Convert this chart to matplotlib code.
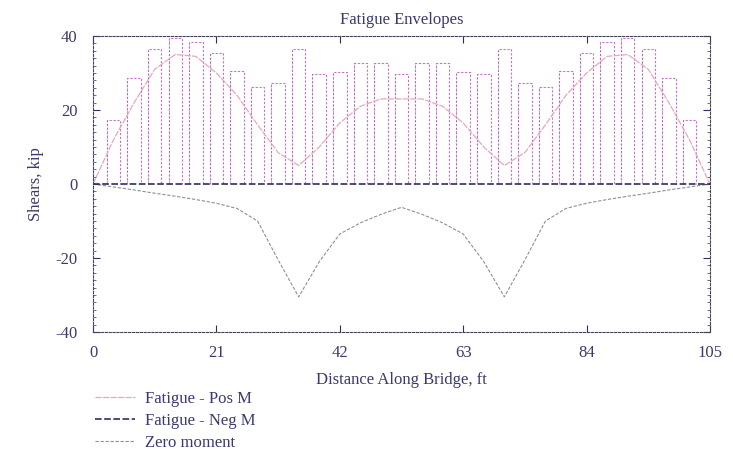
import numpy as np
import matplotlib
matplotlib.use("Agg")
import matplotlib.pyplot as plt

plt.rcParams['font.family'] = ['Liberation Serif', 'DejaVu Serif']
plt.rcParams['axes.unicode_minus'] = False

# Data
dist = [0, 3.5, 7, 10.5, 14, 17.5, 21, 24.5, 28, 31.5, 35, 38.5, 42, 45.5, 49, 52.5,
        56, 59.5, 63, 66.5, 70, 73.5, 77, 80.5, 84, 87.5, 91, 94.5, 98, 101.5, 105]
pos_m = [0, 12, 22, 31, 35, 34.5, 30, 24, 16, 8.5, 5, 10, 16.5, 21, 23, 23,
         23, 21, 16.5, 10, 5, 8.5, 16, 24, 30, 34.5, 35, 31, 22, 12, 0]
neg_m = [0, -0.8, -1.6, -2.5, -3.3, -4.2, -5.2, -6.6, -10, -20.5, -30.5, -21, -13.5, -10.5, -8.2, -6.3,
         -8.2, -10.5, -13.5, -21, -30.5, -20.5, -10, -6.6, -5.2, -4.2, -3.3, -2.5, -1.6, -0.8, 0]
bar_x = [3.5 * k for k in range(1, 30)]
bar_h = [17.3, 28.6, 36.4, 39.4, 38.5, 35.3, 30.6, 26.3, 27.4, 36.4, 29.7, 30.2, 32.8, 32.8, 29.7,
         32.8, 32.8, 30.2, 29.7, 36.4, 27.4, 26.3, 30.6, 35.3, 38.5, 39.4, 36.4, 28.6, 17.3]

txt = '#3a3a6e'
fig = plt.figure(figsize=(7.33, 4.53), dpi=100)
ax = fig.add_axes([0.1269, 0.2671, 0.8417, 0.6534])

# bars drawn as dashed outlines
w = 2.3
for x, h in zip(bar_x, bar_h):
    ax.plot([x - w / 2, x - w / 2, x + w / 2, x + w / 2], [0, h, h, 0],
            color='#cc6ed0', lw=0.8, ls=(0, (2, 1.5)))
    ax.plot([x - w / 2, x - w / 2], [0, h], color='#6a4a8a', lw=0.6, ls=(1, (1, 3)), alpha=0.6)

l_pos, = ax.plot(dist, pos_m, color='#e8a8b8', lw=0.9, ls=(0, (5, 1)), label='Fatigue - Pos M')
l_neg, = ax.plot(dist, neg_m, color='#8e8e9e', lw=0.8, ls=(0, (3, 1.5)), label='Zero moment')
l_zero, = ax.plot([0, 105], [0, 0], color='#2e2e5e', lw=1.2, ls=(0, (4, 1.5)), label='Fatigue - Neg M')

ax.set_xlim(0, 105)
ax.set_ylim(-40, 40)
ax.set_xticks([0, 21, 42, 63, 84, 105])
ax.set_yticks([-40, -20, 0, 20, 40])
ax.set_yticks(np.arange(-40, 41, 2), minor=True)
ax.tick_params(axis='both', which='major', direction='in', length=5, width=0.8,
               colors='#2e2e5e', labelcolor=txt, labelsize=12, top=True, right=True)
ax.tick_params(axis='y', which='minor', direction='in', length=2, width=0.6,
               colors='#555577', right=True)
ax.tick_params(axis='x', pad=9)
ax.tick_params(axis='y', pad=11)
for s in ax.spines.values():
    s.set_linestyle((0, (2, 1.5)))
    s.set_color('#44445e')
    s.set_linewidth(0.8)

ax.set_title('Fatigue Envelopes', fontsize=12, color=txt, pad=9)
ax.set_xlabel('Distance Along Bridge, ft', fontsize=12, color=txt, labelpad=8)
ax.set_ylabel('Shears, kip', fontsize=12, color=txt, labelpad=8)

leg = fig.legend([l_pos, l_zero, l_neg], ['Fatigue - Pos M', 'Fatigue - Neg M', 'Zero moment'],
                 loc='upper left', bbox_to_anchor=(0.1296, 0.137),
                 frameon=False, fontsize=12, handlelength=2.4, handletextpad=0.6,
                 labelspacing=0.37, borderaxespad=0, borderpad=0)
for t in leg.get_texts():
    t.set_color(txt)

fig.savefig('out.png', dpi=100)
